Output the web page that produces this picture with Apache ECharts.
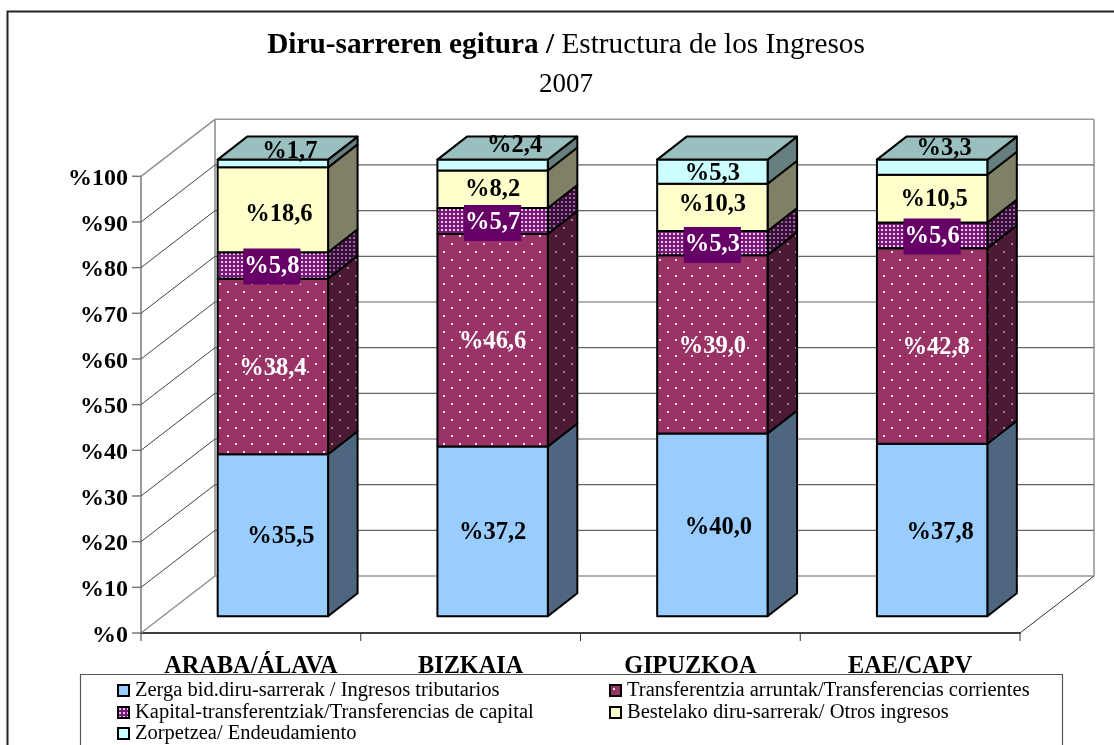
<!DOCTYPE html>
<html><head><meta charset="utf-8">
<style>html,body{margin:0;padding:0;background:#fff}#c{width:1114px;height:745px}</style>
<script src="https://cdn.jsdelivr.net/npm/echarts@6/dist/echarts.min.js"></script>
</head><body><div id="c"></div>
<script>
const categories = ['ARABA/ÁLAVA', 'BIZKAIA', 'GIPUZKOA', 'EAE/CAPV'];
const seriesNames = [
  'Zerga bid.diru-sarrerak / Ingresos tributarios',
  'Transferentzia arruntak/Transferencias corrientes',
  'Kapital-transferentziak/Transferencias de capital',
  'Bestelako diru-sarrerak/ Otros ingresos',
  'Zorpetzea/ Endeudamiento'
];
const zerga = [35.5, 37.2, 40.0, 37.8];
const transferentzia = [38.4, 46.6, 39.0, 42.8];
const kapital = [5.8, 5.7, 5.3, 5.6];
const bestelako = [18.6, 8.2, 10.3, 10.5];
const zorpetzea = [1.7, 2.4, 5.3, 3.3];
const allValues = [zerga, transferentzia, kapital, bestelako, zorpetzea];
const valueTicks = [0, 10, 20, 30, 40, 50, 60, 70, 80, 90, 100];

// label nudges (px) relative to the centre of each segment's front face
const labelNudge = [
  [[8, -1], [0, -1], [6, 1], [8, 1]],
  [[0, 0], [0, -1], [0, 0], [4, 0]],
  [[-1, -1], [0, 0], [0, 0], [0, -1]],
  [[6, 3], [0, -2], [0, -5], [2, -1]],
  [[17, -14], [22, -21], [0, 0], [12, -20]]
];

function tile(w, h, bg, dots, dotColor, size) {
  const c = document.createElement('canvas');
  c.width = w; c.height = h;
  const g = c.getContext('2d');
  g.fillStyle = bg; g.fillRect(0, 0, w, h);
  g.fillStyle = dotColor;
  dots.forEach(d => g.fillRect(d[0], d[1], size, size));
  return { image: c, repeat: 'repeat' };
}
const sparse = [[3, 3], [11, 11]];
const dense = [[1, 1]];
const faces = [
  { front: '#99CCFF', side: '#4F6680' },
  { front: tile(16, 16, '#993366', sparse, '#f0d8e6', 2), side: tile(16, 16, '#4d1a33', sparse, '#9a8090', 2) },
  { front: tile(4, 4, '#7a1a7a', dense, '#e8c8ea', 2), side: tile(4, 4, '#3d0a3d', dense, '#8a708a', 2) },
  { front: '#FFFFCC', side: '#808066' },
  { front: '#CCFFFF', side: '#668080', top: '#99BFBF' }
];

const BAR_DX = 22, BAR_DY = -16.7, BAR_HALF = 55.2, DEPTH_X = 29.5, DEPTH_Y = -23;
const WALL_DX = 74, WALL_DY = -57;
const FONT = '"Liberation Serif", "Times New Roman", serif';

function wallItem(params, api) {
  const v = api.value(0);
  const band = api.size([1, 0])[0];
  const p = api.coord([0, v]);
  const x0 = p[0] - band / 2, y = p[1];
  const x1 = x0 + band * categories.length;
  const edge = v === 0 || v === 100;
  const col = edge ? '#909090' : '#444';
  const line = (a, b, c, d, stroke, lineWidth) => ({ type: 'line', shape: { x1: a, y1: b, x2: c, y2: d }, style: { stroke, lineWidth } });
  const children = [
    line(x0, y, x0 + WALL_DX, y + WALL_DY, col, edge ? 1.5 : 1),
    line(x0 + WALL_DX, y + WALL_DY, x1 + WALL_DX, y + WALL_DY, edge ? '#999' : '#666', edge ? 1.6 : 1.2),
    line(x0 - 9, y, x0, y, '#777', 1.5)
  ];
  if (v === 0) {
    const top = api.coord([0, 100])[1];
    children.push(
      line(x1, y, x1 + WALL_DX, y + WALL_DY, '#333', 1),
      line(x0 + WALL_DX, y + WALL_DY, x0 + WALL_DX, top + WALL_DY, '#909090', 1.6),
      line(x1 + WALL_DX, y + WALL_DY, x1 + WALL_DX, top + WALL_DY, '#999', 1.6),
      line(x0, y, x0, top, '#777', 1.5)
    );
    for (let i = 0; i <= categories.length; i++) {
      children.push(line(x0 + band * i, y, x0 + band * i, y + 8, '#333', 1));
    }
  }
  return { type: 'group', children };
}

function segmentRenderer(si) {
  return function (params, api) {
    const ci = api.value(0), lo = api.value(1), hi = api.value(2), shown = api.value(3);
    const a = api.coord([ci, lo]), b = api.coord([ci, hi]);
    const cx = a[0] + BAR_DX;
    const xl = cx - BAR_HALF, xr = cx + BAR_HALF;
    const yb = a[1] + BAR_DY, yt = b[1] + BAR_DY;
    const f = faces[si];
    const stroke = { stroke: '#000', lineWidth: 2, lineJoin: 'round' };
    const children = [
      { type: 'polygon', shape: { points: [[xr, yb], [xr + DEPTH_X, yb + DEPTH_Y], [xr + DEPTH_X, yt + DEPTH_Y], [xr, yt]] }, style: Object.assign({ fill: f.side }, stroke) },
      { type: 'rect', shape: { x: xl, y: yt, width: xr - xl, height: yb - yt }, style: Object.assign({ fill: f.front }, stroke) }
    ];
    if (f.top) {
      children.push({ type: 'polygon', shape: { points: [[xl, yt], [xr, yt], [xr + DEPTH_X, yt + DEPTH_Y], [xl + DEPTH_X, yt + DEPTH_Y]] }, style: Object.assign({ fill: f.top }, stroke) });
    }
    const n = labelNudge[si][ci];
    const onPurple = si === 2;
    const onDots = si === 1;
    children.push({
      type: 'text', z2: 100,
      style: {
        x: cx + n[0], y: (yb + yt) / 2 + n[1] + 2,
        text: '%' + shown.toFixed(1).replace('.', ','),
        font: 'bold 24.5px ' + FONT, align: 'center', verticalAlign: 'middle',
        fill: onPurple || onDots ? '#fff' : '#000',
        backgroundColor: onPurple ? '#660066' : undefined,
        padding: onPurple ? [6, 1, 5, 1] : 0
      }
    });
    return { type: 'group', children };
  };
}

const series = [{
  type: 'custom', name: 'wall', silent: true, z: 1, clip: false,
  data: valueTicks.map(v => [v]), encode: { y: 0 }, renderItem: wallItem
}];
const totals = categories.map((_, c) => allValues.reduce((s, arr) => s + arr[c], 0));
const running = categories.map(() => 0);
allValues.forEach((arr, si) => {
  const data = arr.map((v, c) => {
    const lo = running[c] / totals[c] * 100;
    running[c] += v;
    return [c, lo, running[c] / totals[c] * 100, v];
  });
  series.push({
    type: 'custom', name: seriesNames[si], z: 2, clip: false, silent: true,
    itemStyle: { color: faces[si].front, borderColor: '#000', borderWidth: 1 },
    data, encode: { x: 0, y: [1, 2] }, renderItem: segmentRenderer(si)
  });
});

const legendSlots = [[117, 680], [609, 680], [117, 702], [609, 702], [117, 723]];
const legends = legendSlots.map((s, i) => ({
  left: s[0], top: s[1], itemWidth: 11, itemHeight: 11, selectedMode: false, padding: 0,
  icon: 'rect', data: [seriesNames[i]],
  textStyle: { fontFamily: FONT, fontSize: 20.5, color: '#000', padding: [0, 0, 0, 1], lineHeight: 17 }
}));

const chart = echarts.init(document.getElementById('c'), null, { renderer: 'canvas', width: 1114, height: 745 });
chart.setOption({
  animation: false,
  backgroundColor: '#fff',
  title: {
    left: 566, top: 26, textAlign: 'center', padding: 0,
    text: '{b|Diru-sarreren egitura /}{n| Estructura de los Ingresos}\n{y|2007}',
    textStyle: {
      fontWeight: 'normal',
      rich: {
        b: { fontFamily: FONT, fontSize: 29.3, fontWeight: 'bold', color: '#000', lineHeight: 39 },
        n: { fontFamily: FONT, fontSize: 29.3, fontWeight: 'normal', color: '#000', lineHeight: 39 },
        y: { fontFamily: FONT, fontSize: 27, fontWeight: 'normal', color: '#000', lineHeight: 39 }
      }
    }
  },
  grid: { left: 141, top: 176.3, width: 879, height: 456.7 },
  xAxis: {
    type: 'category', data: categories,
    axisLine: { lineStyle: { color: '#000', width: 1.5 } },
    axisTick: { show: false },
    axisLabel: { interval: 0, margin: 22, fontFamily: FONT, fontSize: 24.3, fontWeight: 'bold', color: '#000' }
  },
  yAxis: {
    type: 'value', min: 0, max: 100, interval: 10,
    splitLine: { show: false },
    axisLine: { show: false },
    axisTick: { show: false },
    axisLabel: { margin: 13, verticalAlign: 'top', lineHeight: 5, formatter: v => '%' + v, fontFamily: FONT, fontSize: 24, fontWeight: 'bold', color: '#000' }
  },
  legend: legends,
  graphic: [
    { type: 'polyline', silent: true, z: 0, shape: { points: [[7.5, 745], [7.5, 11.5], [1114, 11.5]] }, style: { fill: 'none', stroke: '#222', lineWidth: 2 } },
    { type: 'polyline', silent: true, z: 0, shape: { points: [[80.5, 745], [80.5, 674.5], [1062.5, 674.5], [1062.5, 745]] }, style: { fill: '#fff', stroke: '#555', lineWidth: 1.2 } }
  ],
  series
});
</script></body></html>
